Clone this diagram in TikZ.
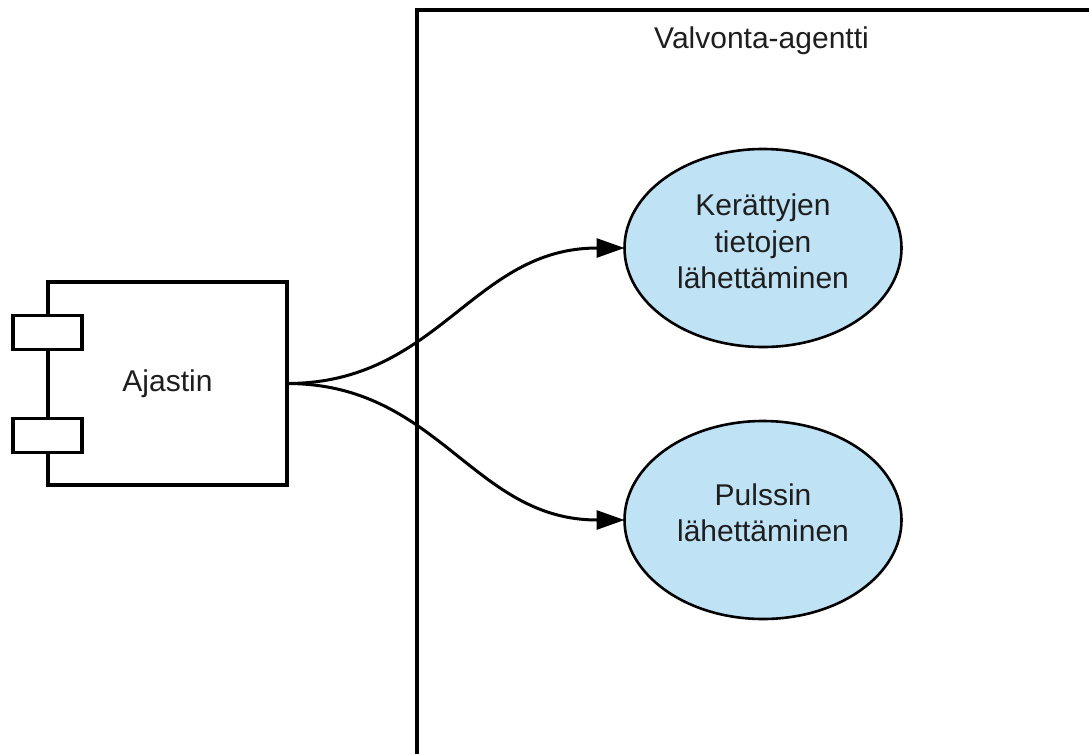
\documentclass[tikz,border=0pt]{standalone}
\usepackage{fontspec}
\setmainfont{Liberation Sans}
\usetikzlibrary{shapes.geometric,arrows.meta}
\definecolor{usecasefill}{RGB}{192,226,245}
\definecolor{inktext}{RGB}{30,30,30}
% struts that balance the label block inside the ellipses
\newcommand\firststrut{\rule{0pt}{24pt}}
\newcommand\laststrut{\rule[-16pt]{0pt}{16pt}}
\begin{document}
\begin{tikzpicture}[x=1pt,y=-1pt,
  every node/.style={text=inktext},
  bigfont/.style={font=\fontsize{30}{36.5}\selectfont},
  frame/.style={draw, line width=3.2pt, rectangle, outer sep=0pt, inner sep=0pt},
  component/.style={draw, line width=3.4pt, rectangle, fill=white, outer sep=0pt, inner sep=0pt,
    minimum width=239pt, minimum height=203pt, bigfont},
  port/.style={draw, line width=3.4pt, rectangle, fill=white, inner sep=0pt,
    minimum width=69pt, minimum height=34pt},
  usecase/.style={draw, line width=2.6pt, ellipse, fill=usecasefill, inner sep=0pt, outer sep=0pt,
    minimum width=277pt, minimum height=198pt, align=center, bigfont},
  conn/.style={draw, line width=3pt, -{Triangle[length=28pt,width=19pt]}}
]
\useasboundingbox (0,0) rectangle (1089,753);
\clip (0,0) rectangle (1089,753);

% agent boundary running off the right and bottom edges
\node[frame, minimum width=800pt, minimum height=800pt, anchor=north west] (agent) at (417,10) {};
\node[bigfont, anchor=base] (agenttitle) at (761.5,48) {Valvonta-agentti};

% timer component with its two ports
\node[component] (ajastin) at (167.5,383.5) {Ajastin};
\node[port] (portA) at (47.5,332.5) {};
\node[port] (portB) at (47.5,435.5) {};

% use cases
\node[usecase] (send) at (763,248) {\firststrut Kerättyjen\\tietojen\\lähettäminen\laststrut};
\node[usecase] (pulse) at (763,520) {\firststrut Pulssin\\lähettäminen\rule[-17pt]{0pt}{17pt}};

% triggers
\draw[conn] (ajastin.east) .. controls +(152,0) and +(-152,0) .. (send.west);
\draw[conn] (ajastin.east) .. controls +(152,0) and +(-152,0) .. (pulse.west);
\end{tikzpicture}
\end{document}
